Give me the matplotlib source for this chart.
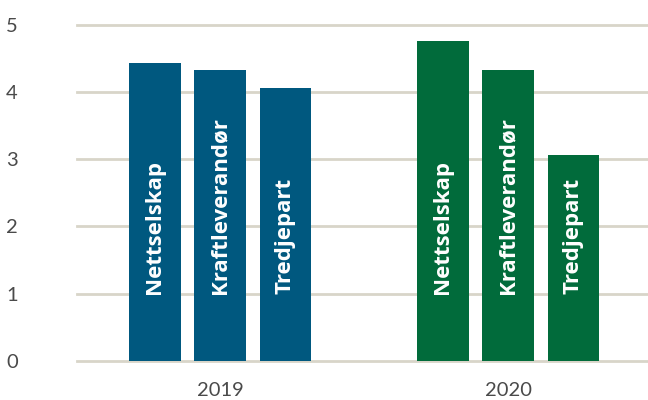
import matplotlib
matplotlib.use("Agg")
import matplotlib.pyplot as plt
import numpy as np

years = ["2019", "2020"]
series = ["Nettselskap", "Kraftleverandør", "Tredjepart"]
values_2019 = [4.43, 4.32, 4.06]
values_2020 = [4.75, 4.32, 3.06]
colors = {"2019": "#00587F", "2020": "#016B3B"}
yticks = [0, 1, 2, 3, 4, 5]

W, H = 648, 400
fig = plt.figure(figsize=(W / 100, H / 100), dpi=100)
ax = fig.add_axes([77 / W, 1 - 361 / H, 1 - 77 / W, (361 - 4) / H])
ax.set_ylim(0, 357 / 67.3)
ax.set_xlim(-0.497, 1.486)

width = 0.18
offset = 0.227
for gi, (yr, vals) in enumerate(zip(years, [values_2019, values_2020])):
    for si, (name, v) in enumerate(zip(series, vals)):
        x = gi + (si - 1) * offset
        ax.bar(x, v, width=width, color=colors[yr], zorder=3)
        ax.text(x, 1.0, name, rotation=90, ha="center", va="bottom",
                color="white", fontsize=16, fontweight="bold",
                family=["Open Sans", "DejaVu Sans"], zorder=4)

for t in yticks:
    ax.axhline(t, color="#D8D5C9", lw=2, zorder=1, clip_on=False)

for s in ax.spines.values():
    s.set_visible(False)

ax.set_yticks(yticks)
ax.set_yticklabels([str(t) for t in yticks], ha="left",
                   fontsize=14.5, color="#4a4a4a", family=["Lato", "DejaVu Sans"],
                   fontweight="normal")
ax.tick_params(axis="y", length=0, pad=51)
ax.set_xticks([0, 1])
ax.set_xticklabels(years, fontsize=14.5, color="#4a4a4a",
                   family=["Lato", "DejaVu Sans"], fontweight="normal")
ax.tick_params(axis="x", length=0, pad=15)

fig.savefig("out.png", dpi=100)
